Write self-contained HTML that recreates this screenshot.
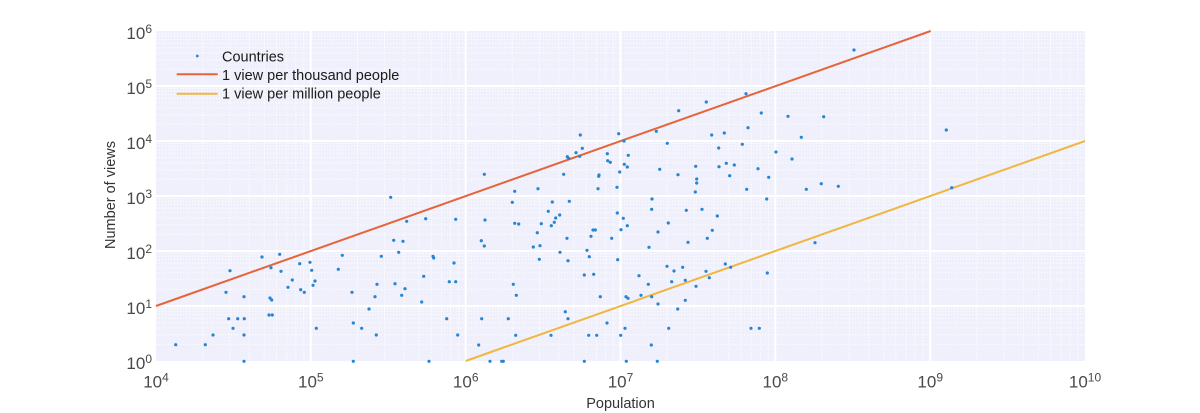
<!DOCTYPE html>
<html><head><meta charset="utf-8"><style>
html,body{margin:0;padding:0;background:#fff;width:1200px;height:413px;overflow:hidden}
svg{display:block}
text{font-family:"Liberation Sans",sans-serif}
</style></head><body>
<svg width="1200" height="413" viewBox="0 0 1200 413" xmlns="http://www.w3.org/2000/svg">
<rect x="156" y="31" width="929" height="330" fill="#EFF0FB"/>
<g stroke="#ffffff" stroke-width="1" stroke-dasharray="1.2,1.8" opacity="0.95">
<path d="M202.6 31V361M229.9 31V361M249.2 31V361M264.2 31V361M276.5 31V361M286.9 31V361M295.8 31V361M303.8 31V361
M357.4 31V361M384.7 31V361M404.1 31V361M419.1 31V361M431.3 31V361M441.7 31V361M450.7 31V361M458.6 31V361
M512.3 31V361M539.5 31V361M558.9 31V361M573.9 31V361M586.1 31V361M596.5 31V361M605.5 31V361M613.4 31V361
M667.1 31V361M694.4 31V361M713.7 31V361M728.7 31V361M741 31V361M751.4 31V361M760.3 31V361M768.3 31V361
M821.9 31V361M849.2 31V361M868.6 31V361M883.6 31V361M895.8 31V361M906.2 31V361M915.2 31V361M923.1 31V361
M976.8 31V361M1004 31V361M1023.4 31V361M1038.4 31V361M1050.6 31V361M1061 31V361M1070 31V361M1077.9 31V361"/>
<path d="M156 344.4H1085M156 334.8H1085M156 327.9H1085M156 322.6H1085M156 318.2H1085M156 314.5H1085M156 311.3H1085M156 308.5H1085
M156 289.4H1085M156 279.8H1085M156 272.9H1085M156 267.6H1085M156 263.2H1085M156 259.5H1085M156 256.3H1085M156 253.5H1085
M156 234.4H1085M156 224.8H1085M156 217.9H1085M156 212.6H1085M156 208.2H1085M156 204.5H1085M156 201.3H1085M156 198.5H1085
M156 179.4H1085M156 169.8H1085M156 162.9H1085M156 157.6H1085M156 153.2H1085M156 149.5H1085M156 146.3H1085M156 143.5H1085
M156 124.4H1085M156 114.8H1085M156 107.9H1085M156 102.6H1085M156 98.2H1085M156 94.5H1085M156 91.3H1085M156 88.5H1085
M156 69.4H1085M156 59.8H1085M156 52.9H1085M156 47.6H1085M156 43.2H1085M156 39.5H1085M156 36.3H1085M156 33.5H1085"/>
</g>
<g stroke="#ffffff" stroke-width="2">
<path d="M310.8 31V361M465.7 31V361M620.5 31V361M775.3 31V361M930.2 31V361"/>
<path d="M156 306H1085M156 251H1085M156 196H1085M156 141H1085M156 86H1085"/>
</g>
<line x1="156" y1="306" x2="930.7" y2="31" stroke="#E6643A" stroke-width="2"/>
<line x1="465.7" y1="361" x2="1085" y2="141" stroke="#F1B640" stroke-width="2"/>
<g fill="#2585D3">
<circle cx="390.7" cy="197.3" r="1.6"/><circle cx="406.7" cy="221.3" r="1.6"/><circle cx="425.7" cy="218.7" r="1.6"/><circle cx="455.7" cy="219.3" r="1.6"/>
<circle cx="393.7" cy="240.3" r="1.6"/><circle cx="403" cy="241.3" r="1.6"/><circle cx="398.7" cy="252.3" r="1.6"/><circle cx="381.3" cy="256.3" r="1.6"/>
<circle cx="342.3" cy="255.3" r="1.6"/><circle cx="279.7" cy="254.3" r="1.6"/><circle cx="262" cy="257" r="1.6"/><circle cx="271" cy="267.7" r="1.6"/>
<circle cx="281" cy="271.3" r="1.6"/><circle cx="299.7" cy="263.7" r="1.6"/><circle cx="310" cy="262.3" r="1.6"/><circle cx="311.7" cy="270.3" r="1.6"/>
<circle cx="338.3" cy="269.3" r="1.6"/><circle cx="230" cy="270.7" r="1.6"/><circle cx="433" cy="256.3" r="1.6"/><circle cx="433.7" cy="258" r="1.6"/>
<circle cx="454" cy="263" r="1.6"/><circle cx="292.3" cy="280" r="1.6"/><circle cx="315" cy="281" r="1.6"/><circle cx="313" cy="285.3" r="1.6"/>
<circle cx="288" cy="287.3" r="1.6"/><circle cx="300.7" cy="289.7" r="1.6"/><circle cx="304.3" cy="292.3" r="1.6"/><circle cx="226" cy="292.3" r="1.6"/>
<circle cx="244" cy="296.7" r="1.6"/><circle cx="270" cy="298" r="1.6"/><circle cx="271.7" cy="300" r="1.6"/><circle cx="352" cy="292.3" r="1.6"/>
<circle cx="377" cy="284.3" r="1.6"/><circle cx="375" cy="296.7" r="1.6"/><circle cx="395" cy="283.7" r="1.6"/><circle cx="405" cy="288.7" r="1.6"/>
<circle cx="401.7" cy="295.3" r="1.6"/><circle cx="423.7" cy="276.3" r="1.6"/><circle cx="421.7" cy="302" r="1.6"/><circle cx="449.3" cy="281.7" r="1.6"/>
<circle cx="455.7" cy="281.7" r="1.6"/><circle cx="369" cy="309" r="1.6"/><circle cx="228.7" cy="318.7" r="1.6"/><circle cx="237.7" cy="318.7" r="1.6"/>
<circle cx="244.3" cy="318.7" r="1.6"/><circle cx="269" cy="315" r="1.6"/><circle cx="272.3" cy="315" r="1.6"/><circle cx="233" cy="328.3" r="1.6"/>
<circle cx="316.3" cy="328.3" r="1.6"/><circle cx="353.3" cy="323" r="1.6"/><circle cx="361.7" cy="328.3" r="1.6"/><circle cx="446.7" cy="318.7" r="1.6"/>
<circle cx="213" cy="335" r="1.6"/><circle cx="244" cy="335" r="1.6"/><circle cx="376.3" cy="335" r="1.6"/><circle cx="457.7" cy="335" r="1.6"/>
<circle cx="175.7" cy="344.7" r="1.6"/><circle cx="205.3" cy="344.7" r="1.6"/><circle cx="244" cy="361.3" r="1.6"/><circle cx="353.3" cy="361.3" r="1.6"/>
<circle cx="429" cy="361.3" r="1.6"/>
<circle cx="580.3" cy="135" r="1.6"/><circle cx="618.7" cy="133.7" r="1.6"/><circle cx="582.3" cy="148.3" r="1.6"/><circle cx="576" cy="152.7" r="1.6"/>
<circle cx="567.3" cy="156.7" r="1.6"/><circle cx="568.7" cy="158.3" r="1.6"/><circle cx="579.7" cy="156.3" r="1.6"/><circle cx="607.3" cy="153.7" r="1.6"/>
<circle cx="607.7" cy="160.7" r="1.6"/><circle cx="610.3" cy="162.3" r="1.6"/><circle cx="484.3" cy="174.3" r="1.6"/><circle cx="563.7" cy="174.3" r="1.6"/>
<circle cx="599" cy="175" r="1.6"/><circle cx="598.7" cy="176.3" r="1.6"/><circle cx="619.7" cy="172" r="1.6"/><circle cx="514.7" cy="191.3" r="1.6"/>
<circle cx="538" cy="188.7" r="1.6"/><circle cx="598" cy="188.7" r="1.6"/><circle cx="617" cy="187.3" r="1.6"/><circle cx="512.3" cy="202.3" r="1.6"/>
<circle cx="552.3" cy="202" r="1.6"/><circle cx="569.3" cy="201.3" r="1.6"/><circle cx="548.3" cy="211.3" r="1.6"/><circle cx="559.7" cy="215" r="1.6"/>
<circle cx="555.7" cy="218" r="1.6"/><circle cx="554.3" cy="222.3" r="1.6"/><circle cx="551.3" cy="225.7" r="1.6"/><circle cx="541.3" cy="223.7" r="1.6"/>
<circle cx="514.7" cy="223.3" r="1.6"/><circle cx="518.7" cy="224" r="1.6"/><circle cx="485" cy="220" r="1.6"/><circle cx="617.3" cy="213" r="1.6"/>
<circle cx="537.3" cy="232.7" r="1.6"/><circle cx="481.3" cy="240.7" r="1.6"/><circle cx="484.3" cy="246" r="1.6"/><circle cx="533.3" cy="247" r="1.6"/>
<circle cx="540" cy="245.7" r="1.6"/><circle cx="567" cy="238.3" r="1.6"/><circle cx="593" cy="230" r="1.6"/><circle cx="595.3" cy="230" r="1.6"/>
<circle cx="591" cy="236.3" r="1.6"/><circle cx="611.7" cy="238.3" r="1.6"/><circle cx="560" cy="252.3" r="1.6"/><circle cx="539.3" cy="259.3" r="1.6"/>
<circle cx="568" cy="260.7" r="1.6"/><circle cx="587" cy="250.3" r="1.6"/><circle cx="589.3" cy="256.7" r="1.6"/><circle cx="617.7" cy="259.7" r="1.6"/>
<circle cx="584.3" cy="275" r="1.6"/><circle cx="593.7" cy="274.3" r="1.6"/><circle cx="513.3" cy="284.3" r="1.6"/><circle cx="516.3" cy="295.3" r="1.6"/>
<circle cx="600.3" cy="296.7" r="1.6"/><circle cx="481.7" cy="318.7" r="1.6"/><circle cx="508.3" cy="318.7" r="1.6"/><circle cx="565.3" cy="311.7" r="1.6"/>
<circle cx="568" cy="318.7" r="1.6"/><circle cx="607" cy="323" r="1.6"/><circle cx="515.7" cy="335.3" r="1.6"/><circle cx="551" cy="335.3" r="1.6"/>
<circle cx="588.7" cy="335.3" r="1.6"/><circle cx="596.7" cy="335.3" r="1.6"/><circle cx="478.7" cy="345" r="1.6"/><circle cx="490" cy="361.3" r="1.6"/>
<circle cx="501.7" cy="361.3" r="1.6"/><circle cx="503.3" cy="361.3" r="1.6"/><circle cx="584.3" cy="361.3" r="1.6"/>
<circle cx="746" cy="93.7" r="1.6"/><circle cx="706.3" cy="102" r="1.6"/><circle cx="678.7" cy="110.7" r="1.6"/><circle cx="761.3" cy="113" r="1.6"/>
<circle cx="656.3" cy="131.3" r="1.6"/><circle cx="711.7" cy="135" r="1.6"/><circle cx="724.3" cy="133" r="1.6"/><circle cx="748" cy="127.7" r="1.6"/>
<circle cx="624" cy="141" r="1.6"/><circle cx="667.3" cy="143.3" r="1.6"/><circle cx="742.3" cy="144.3" r="1.6"/><circle cx="718.7" cy="148" r="1.6"/>
<circle cx="776" cy="152" r="1.6"/><circle cx="628.3" cy="155.3" r="1.6"/><circle cx="624.3" cy="164.3" r="1.6"/><circle cx="627.3" cy="167" r="1.6"/>
<circle cx="659.7" cy="169.3" r="1.6"/><circle cx="678" cy="174.7" r="1.6"/><circle cx="695.7" cy="166.3" r="1.6"/><circle cx="719" cy="166.7" r="1.6"/>
<circle cx="726.3" cy="163.3" r="1.6"/><circle cx="734.3" cy="165" r="1.6"/><circle cx="729.7" cy="175.7" r="1.6"/><circle cx="758" cy="168.7" r="1.6"/>
<circle cx="768.7" cy="177.3" r="1.6"/><circle cx="696.7" cy="179" r="1.6"/><circle cx="696.7" cy="183" r="1.6"/><circle cx="695.3" cy="192" r="1.6"/>
<circle cx="746.7" cy="189.3" r="1.6"/><circle cx="652" cy="199" r="1.6"/><circle cx="651.7" cy="209.3" r="1.6"/><circle cx="766.7" cy="199" r="1.6"/>
<circle cx="686.3" cy="210.3" r="1.6"/><circle cx="702" cy="209.3" r="1.6"/><circle cx="717.3" cy="216" r="1.6"/><circle cx="623.3" cy="218.3" r="1.6"/>
<circle cx="627.3" cy="225.7" r="1.6"/><circle cx="621" cy="229.7" r="1.6"/><circle cx="668.3" cy="223" r="1.6"/><circle cx="658" cy="232" r="1.6"/>
<circle cx="712.3" cy="230.3" r="1.6"/><circle cx="707.3" cy="238.3" r="1.6"/><circle cx="688" cy="242.3" r="1.6"/><circle cx="649" cy="247.3" r="1.6"/>
<circle cx="725.3" cy="264" r="1.6"/><circle cx="730.7" cy="267.3" r="1.6"/><circle cx="667" cy="266.3" r="1.6"/><circle cx="682.7" cy="267.3" r="1.6"/>
<circle cx="674" cy="271" r="1.6"/><circle cx="639" cy="275.7" r="1.6"/><circle cx="706" cy="271.3" r="1.6"/><circle cx="709.3" cy="277.7" r="1.6"/>
<circle cx="767.3" cy="273" r="1.6"/><circle cx="671.7" cy="281.7" r="1.6"/><circle cx="685.3" cy="280.3" r="1.6"/><circle cx="648.3" cy="284.3" r="1.6"/>
<circle cx="696" cy="286.3" r="1.6"/><circle cx="641" cy="295.3" r="1.6"/><circle cx="626" cy="296.7" r="1.6"/><circle cx="628" cy="298.3" r="1.6"/>
<circle cx="651.7" cy="296.7" r="1.6"/><circle cx="658" cy="304" r="1.6"/><circle cx="685.3" cy="300.3" r="1.6"/><circle cx="677.7" cy="309" r="1.6"/>
<circle cx="625" cy="328.3" r="1.6"/><circle cx="668.7" cy="328.3" r="1.6"/><circle cx="751" cy="328.3" r="1.6"/><circle cx="759.3" cy="328.3" r="1.6"/>
<circle cx="620.7" cy="335.3" r="1.6"/><circle cx="651.3" cy="345" r="1.6"/><circle cx="626.3" cy="361.3" r="1.6"/><circle cx="657.3" cy="361.3" r="1.6"/>
<circle cx="854" cy="50" r="1.6"/><circle cx="788" cy="116.3" r="1.6"/><circle cx="823.7" cy="116.7" r="1.6"/><circle cx="946.3" cy="130" r="1.6"/>
<circle cx="801.3" cy="137.3" r="1.6"/><circle cx="792" cy="159" r="1.6"/><circle cx="821.3" cy="183.7" r="1.6"/><circle cx="838.3" cy="186.3" r="1.6"/>
<circle cx="806.3" cy="189.3" r="1.6"/><circle cx="951.7" cy="187.7" r="1.6"/><circle cx="815" cy="242.7" r="1.6"/>
</g>
<!-- legend -->
<circle cx="197.3" cy="56" r="1.4" fill="#2585D3"/>
<line x1="176.7" y1="74.3" x2="217.7" y2="74.3" stroke="#E6643A" stroke-width="2"/>
<line x1="176.7" y1="93.7" x2="217.7" y2="93.7" stroke="#F1B640" stroke-width="2"/>
<g font-size="14.5" fill="#1a1a1a">
<text x="222" y="61.5">Countries</text>
<text x="222" y="80">1 view per thousand people</text>
<text x="222" y="98.5">1 view per million people</text>
</g>
<!-- y ticks -->
<g font-size="17" fill="#4a4a4a" text-anchor="end">
<text x="152" y="39">10<tspan font-size="12" dy="-6">6</tspan></text>
<text x="152" y="94">10<tspan font-size="12" dy="-6">5</tspan></text>
<text x="152" y="149">10<tspan font-size="12" dy="-6">4</tspan></text>
<text x="152" y="204">10<tspan font-size="12" dy="-6">3</tspan></text>
<text x="152" y="259">10<tspan font-size="12" dy="-6">2</tspan></text>
<text x="152" y="314">10<tspan font-size="12" dy="-6">1</tspan></text>
<text x="152" y="369">10<tspan font-size="12" dy="-6">0</tspan></text>
</g>
<!-- x ticks -->
<g font-size="17" fill="#4a4a4a" text-anchor="middle">
<text x="156" y="387.5">10<tspan font-size="12" dy="-6">4</tspan></text>
<text x="310.8" y="387.5">10<tspan font-size="12" dy="-6">5</tspan></text>
<text x="465.7" y="387.5">10<tspan font-size="12" dy="-6">6</tspan></text>
<text x="620.5" y="387.5">10<tspan font-size="12" dy="-6">7</tspan></text>
<text x="775.3" y="387.5">10<tspan font-size="12" dy="-6">8</tspan></text>
<text x="930.2" y="387.5">10<tspan font-size="12" dy="-6">9</tspan></text>
<text x="1085" y="387.5">10<tspan font-size="12" dy="-6">10</tspan></text>
</g>
<text x="620.5" y="408" font-size="14.5" fill="#333" text-anchor="middle">Population</text>
<text transform="translate(115,195) rotate(-90)" font-size="14.5" fill="#333" text-anchor="middle">Number of views</text>
</svg>
</body></html>
